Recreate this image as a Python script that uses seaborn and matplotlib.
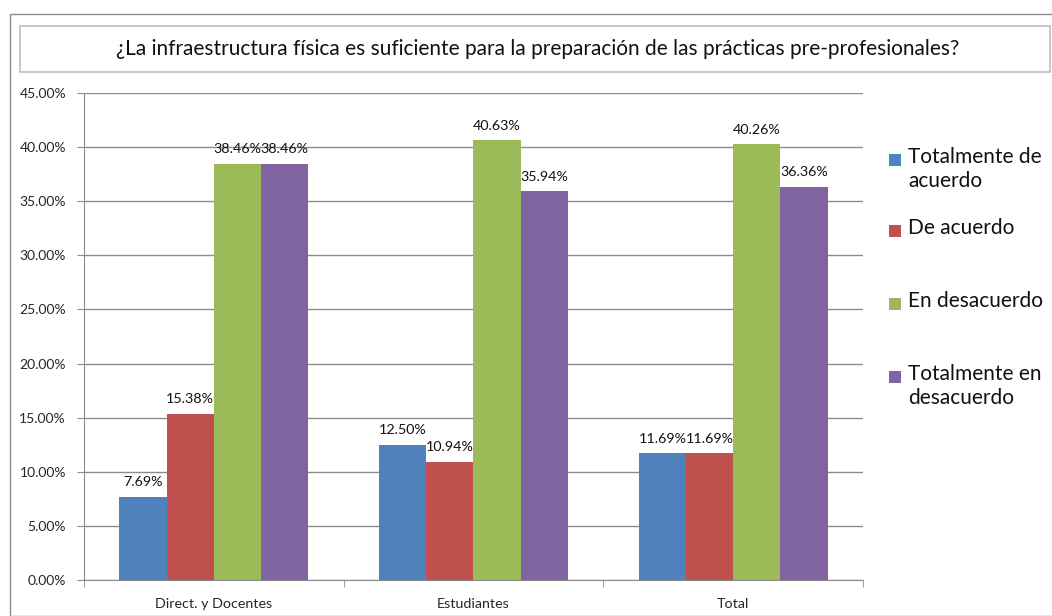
import matplotlib
matplotlib.use("Agg")
import matplotlib.pyplot as plt
import seaborn as sns
import pandas as pd
from matplotlib.patches import Rectangle
from matplotlib.ticker import FuncFormatter, FixedLocator

groups = ["Direct. y Docentes", "Estudiantes", "Total"]
series = ["Totalmente de\nacuerdo", "De acuerdo", "En desacuerdo", "Totalmente en\ndesacuerdo"]
s_totalmente_acuerdo = [7.69, 12.50, 11.69]
s_de_acuerdo = [15.38, 10.94, 11.69]
s_en_desacuerdo = [38.46, 40.63, 40.26]
s_totalmente_desacuerdo = [38.46, 35.94, 36.36]
yticks = [0, 5, 10, 15, 20, 25, 30, 35, 40, 45]
title = "¿La infraestructura física es suficiente para la preparación de las prácticas pre-profesionales?"
colors = ["#4F81BD", "#C0504D", "#9BBB59", "#8064A2"]

values = [s_totalmente_acuerdo, s_de_acuerdo, s_en_desacuerdo, s_totalmente_desacuerdo]
rows = []
for s, vals in zip(series, values):
    for g, v in zip(groups, vals):
        rows.append({"grupo": g, "serie": s, "valor": v})
df = pd.DataFrame(rows)

sns.set_style("white")
plt.rcParams["font.family"] = ["Lato", "DejaVu Sans"]

fig = plt.figure(figsize=(10.52, 6.16), dpi=100)
W, H = 1052, 616
ax = fig.add_axes([84 / W, 1 - 580 / H, (863 - 84) / W, (580 - 93) / H])

sns.barplot(data=df, x="grupo", y="valor", hue="serie", order=groups, hue_order=series,
            palette=colors, width=0.727, saturation=1, ax=ax, legend=False,
            edgecolor="none", linewidth=0, errorbar=None)

for cont in ax.containers:
    ax.bar_label(cont, labels=[f"{v:.2f}%" for v in cont.datavalues], padding=6,
                 fontsize=10.3, color="#111111")

ax.set_xlim(-0.5, 2.5)
ax.set_ylim(0, 45)
ax.yaxis.set_major_locator(FixedLocator(yticks))
ax.yaxis.set_major_formatter(FuncFormatter(lambda v, p: f"{v:.2f}%"))
ax.set_xlabel("")
ax.set_ylabel("")
ax.grid(axis="y", color="#8c8c8c", linewidth=1)
ax.set_axisbelow(True)
for side in ["top", "right"]:
    ax.spines[side].set_visible(False)
ax.spines["left"].set_color("#8c8c8c")
ax.spines["bottom"].set_color("#8c8c8c")
ax.tick_params(axis="y", which="major", length=5, color="#8c8c8c", labelsize=10, pad=8, left=True)
ax.tick_params(axis="x", which="major", length=0, labelsize=10.3, pad=13)
ax.xaxis.set_minor_locator(FixedLocator([-0.5, 0.5, 1.5, 2.5]))
ax.tick_params(axis="x", which="minor", length=5, color="#8c8c8c", bottom=True)

# outer frame and title box
fig.patches.append(Rectangle((10 / W, 0), 1.2, 1 - 14 / H, transform=fig.transFigure,
                             fill=False, edgecolor="#8c8c8c", linewidth=1))
fig.patches.append(Rectangle((20 / W, 1 - 72 / H), 1030 / W, 46 / H, transform=fig.transFigure,
                             fill=False, edgecolor="#bfbfbf", linewidth=1.2))
fig.text(538 / W, 1 - 49 / H, title, ha="center", va="center", fontsize=15, color="#111111")

# legend
leg_y = [160, 231, 304, 377]
for c, s, y in zip(colors, series, leg_y):
    fig.patches.append(Rectangle((889 / W, 1 - (y + 6) / H), 12 / W, 12 / H,
                                 transform=fig.transFigure, facecolor=c, edgecolor="none"))
    fig.text(908 / W, 1 - (y - 13) / H, s, ha="left", va="top", fontsize=15,
             color="#111111", linespacing=1.25)

fig.savefig("out.png", dpi=100)
